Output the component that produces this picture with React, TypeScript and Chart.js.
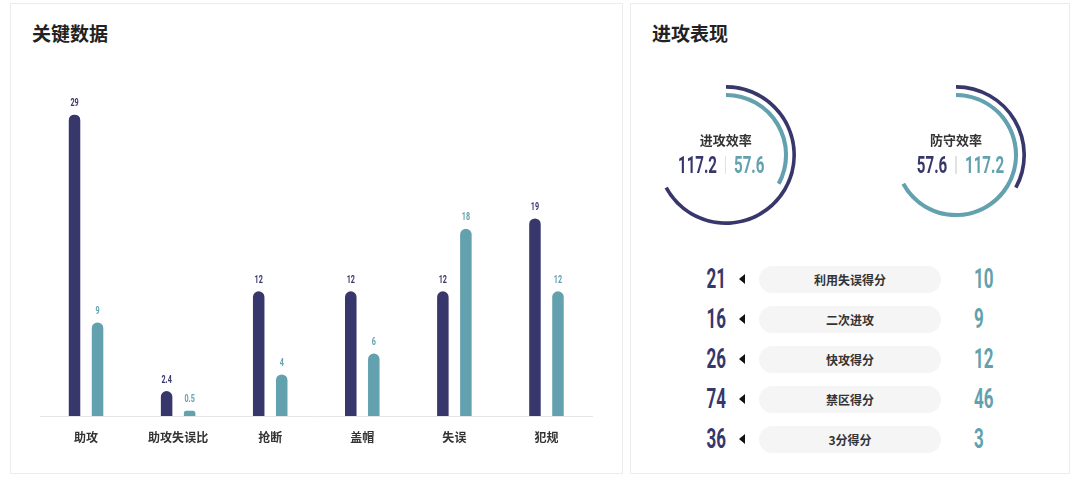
import React, { useEffect, useRef } from "react";
import { Chart, registerables } from "chart.js";

Chart.register(...registerables);

// ---------- data ----------
const categories = ["助攻", "助攻失误比", "抢断", "盖帽", "失误", "犯规"];
const teamA = [29, 2.4, 12, 12, 12, 19];
const teamB = [9, 0.5, 4, 6, 18, 12];

const gaugeTitles = ["进攻效率", "防守效率"];
const gaugeDark = [117.2, 57.6];
const gaugeTeal = [57.6, 117.2];

const rowLabels = ["利用失误得分", "二次进攻", "快攻得分", "禁区得分", "3分得分"];
const rowLeft = [21, 16, 26, 74, 36];
const rowRight = [10, 9, 12, 46, 3];

const DARK = "#38376b";
const TEAL = "#62a1ad";
const CJK = "'Noto Sans CJK SC', 'Noto Sans', sans-serif";
const NUMFONT = "Roboto, 'DejaVu Sans', sans-serif";
const SX = 0.63;

function BarChart() {
  const ref = useRef<HTMLCanvasElement>(null);
  useEffect(() => {
    const labelPlugin = {
      id: "barLabels",
      afterDatasetsDraw(chart: any) {
        const ctx = chart.ctx;
        chart.data.datasets.forEach((ds: any, i: number) => {
          const meta = chart.getDatasetMeta(i);
          meta.data.forEach((el: any, j: number) => {
            const v = ds.data[j];
            ctx.save();
            ctx.translate(el.x, el.y - 11);
            ctx.scale(0.72, 1);
            ctx.font = `700 10px ${NUMFONT}`;
            ctx.fillStyle = ds.backgroundColor;
            ctx.textAlign = "center";
            ctx.textBaseline = "middle";
            ctx.fillText(String(v), 0, 0);
            ctx.restore();
          });
        });
      },
    };
    const chart = new Chart(ref.current!, {
      type: "bar",
      data: {
        labels: categories,
        datasets: [
          {
            data: teamA,
            backgroundColor: DARK,
            borderRadius: 6,
            borderSkipped: "start",
            categoryPercentage: 0.5,
            barPercentage: 0.5,
          },
          {
            data: teamB,
            backgroundColor: TEAL,
            borderRadius: 6,
            borderSkipped: "start",
            categoryPercentage: 0.5,
            barPercentage: 0.5,
          },
        ],
      },
      options: {
        responsive: false,
        animation: false,
        events: [],
        layout: { padding: { left: 30, right: 29.5, top: 64.4, bottom: 15.6 } },
        plugins: { legend: { display: false }, tooltip: { enabled: false } },
        scales: {
          x: {
            grid: { display: false, drawTicks: false },
            border: { display: true, color: "#e6e6e6", width: 1 },
            ticks: {
              padding: 14,
              color: "#333",
              font: { family: CJK, size: 12, weight: 700 as any },
            },
          },
          y: { display: false, min: 0, max: 29 },
        },
      } as any,
      plugins: [labelPlugin],
    } as any);
    return () => chart.destroy();
  }, []);
  return (
    <canvas
      ref={ref}
      width={612}
      height={424}
      style={{ position: "absolute", left: 10, top: 50, width: 612, height: 424 }}
    />
  );
}

function Gauge({ cx, cy, dark, teal }: { cx: number; cy: number; dark: number; teal: number }) {
  const ref = useRef<HTMLCanvasElement>(null);
  useEffect(() => {
    const T = "rgba(0,0,0,0)";
    const chart = new Chart(ref.current!, {
      type: "doughnut",
      data: {
        labels: ["a", "b"],
        datasets: [
          { data: [dark, teal], backgroundColor: [DARK, T], borderWidth: 0, weight: 3.6 },
          { data: [1], backgroundColor: [T], borderWidth: 0, weight: 4.2 },
          { data: [teal, dark], backgroundColor: [TEAL, T], borderWidth: 0, weight: 4 },
        ],
      },
      options: {
        responsive: false,
        animation: false,
        events: [],
        cutout: 58,
        hoverOffset: 0,
        plugins: { legend: { display: false }, tooltip: { enabled: false } },
      } as any,
    } as any);
    return () => chart.destroy();
  }, []);
  return (
    <canvas
      ref={ref}
      width={140}
      height={140}
      style={{ position: "absolute", left: cx - 70, top: cy - 70, width: 140, height: 140 }}
    />
  );
}

function Num({
  x, y, size, color, text, align,
}: { x: number; y: number; size: number; color: string; text: string; align: "left" | "right" }) {
  const style: any = {
    position: "absolute",
    top: y - size / 2,
    height: size,
    lineHeight: size + "px",
    fontSize: size,
    fontFamily: NUMFONT,
    fontWeight: 700,
    color,
    whiteSpace: "nowrap",
    transform: `scaleX(${SX})`,
    transformOrigin: align === "right" ? "right center" : "left center",
  };
  if (align === "right") style.right = 1080 - x;
  else style.left = x;
  return <div style={style}>{text}</div>;
}

const cardStyle = (left: number, width: number): any => ({
  position: "absolute",
  left,
  top: 3,
  width,
  height: 471,
  border: "1px solid #eaeded",
  boxSizing: "border-box",
  background: "#fff",
});

const titleStyle = (left: number): any => ({
  position: "absolute",
  left,
  top: 22,
  fontFamily: CJK,
  fontWeight: 700,
  fontSize: 19,
  lineHeight: "22px",
  color: "#222",
  whiteSpace: "nowrap",
});

export default function App() {
  const gaugeCx = [725.7, 956];
  const gaugeCy = 154.5;
  return (
    <div
      style={{
        position: "fixed",
        left: 0,
        top: 0,
        width: 1080,
        height: 481,
        background: "#fff",
        overflow: "hidden",
      }}
    >
      <div style={cardStyle(10, 613)} />
      <div style={cardStyle(630, 440)} />
      <div style={titleStyle(32)}>关键数据</div>
      <div style={titleStyle(652)}>进攻表现</div>
      <BarChart />

      {gaugeCx.map((cx, i) => (
        <React.Fragment key={"g" + i}>
          <Gauge cx={cx} cy={gaugeCy} dark={gaugeDark[i]} teal={gaugeTeal[i]} />
          <div
            style={{
              position: "absolute",
              left: cx - 50,
              width: 100,
              top: 131,
              textAlign: "center",
              fontFamily: CJK,
              fontWeight: 700,
              fontSize: 13,
              lineHeight: "18px",
              color: "#333",
            }}
          >
            {gaugeTitles[i]}
          </div>
          <Num x={cx - 8.5} y={165} size={24} color={DARK} text={String(gaugeDark[i])} align="right" />
          <div
            style={{
              position: "absolute",
              left: cx - 0.75,
              top: 156,
              width: 1.5,
              height: 18,
              background: "#e2e2e2",
            }}
          />
          <Num x={cx + 8.5} y={165} size={24} color={TEAL} text={String(gaugeTeal[i])} align="left" />
        </React.Fragment>
      ))}

      {rowLabels.map((lab, i) => {
        const y = 279 + 40 * i;
        return (
          <React.Fragment key={"r" + i}>
            <Num x={726} y={y} size={27} color={DARK} text={String(rowLeft[i])} align="right" />
            <div
              style={{
                position: "absolute",
                left: 739,
                top: y - 5,
                width: 0,
                height: 0,
                borderTop: "5px solid transparent",
                borderBottom: "5px solid transparent",
                borderRight: "6px solid #111",
              }}
            />
            <div
              style={{
                position: "absolute",
                left: 759,
                top: y - 13.5,
                width: 182,
                height: 27,
                borderRadius: 13.5,
                background: "#f5f5f5",
                fontFamily: CJK,
                fontWeight: 700,
                fontSize: 12,
                lineHeight: "27px",
                textAlign: "center",
                color: "#333",
              }}
            >
              {lab}
            </div>
            <Num x={974} y={y} size={27} color={TEAL} text={String(rowRight[i])} align="left" />
          </React.Fragment>
        );
      })}
    </div>
  );
}
